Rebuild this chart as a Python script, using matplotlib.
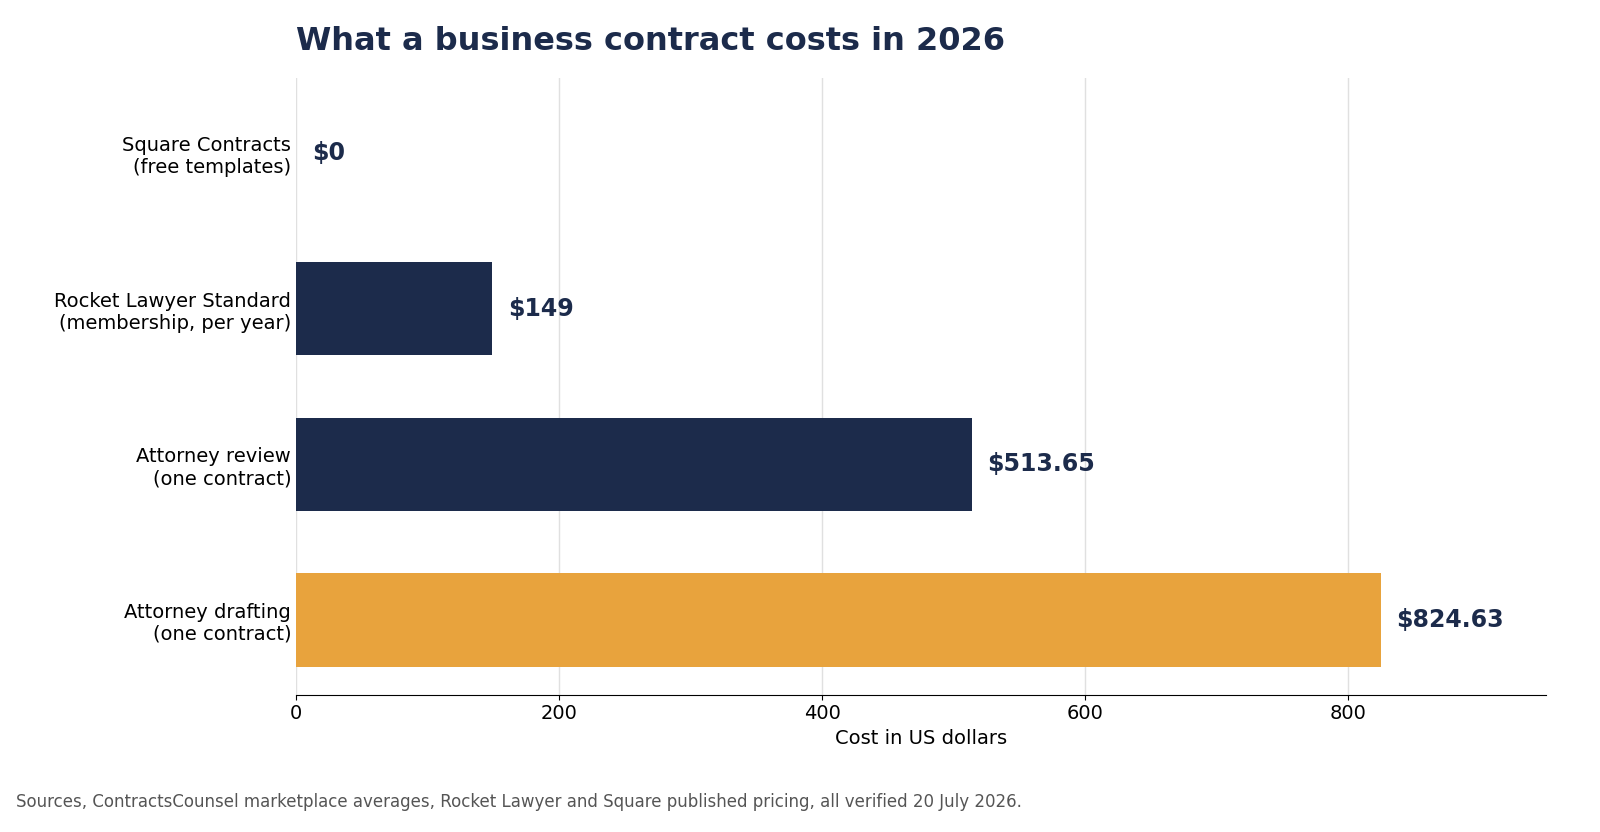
import matplotlib.pyplot as plt

labels = ["Square Contracts\n(free templates)",
          "Rocket Lawyer Standard\n(membership, per year)",
          "Attorney review\n(one contract)",
          "Attorney drafting\n(one contract)"]
costs = [0, 149, 513.65, 824.63]
value_text = ["$0", "$149", "$513.65", "$824.63"]
colors = ["#1c2b4b", "#1c2b4b", "#1c2b4b", "#e8a33d"]

fig = plt.figure(figsize=(16, 8.32), dpi=100)
ax = fig.add_axes([0.185, 0.165, 0.781, 0.741])

ypos = range(len(labels))
ax.barh(ypos, costs, height=0.6, color=colors, zorder=2)
for y, c, t in zip(ypos, costs, value_text):
    ax.text(c + 12, y, t, va="center", ha="left", fontsize=17,
            fontweight="bold", color="#1c2b4b")

ax.set_yticks(list(ypos))
ax.set_yticklabels(labels, fontsize=14)
ax.set_ylim(3.48, -0.48)
ax.set_xlim(0, 950)
ax.set_xticks([0, 200, 400, 600, 800])
ax.tick_params(axis="x", labelsize=14)
ax.tick_params(axis="y", length=0)
ax.grid(axis="x", color="#e0e0e0", linewidth=1, zorder=0)
for s in ["top", "right", "left"]:
    ax.spines[s].set_visible(False)
ax.set_xlabel("Cost in US dollars", fontsize=14)

ax.set_title("What a business contract costs in 2026", loc="left",
             fontsize=23, fontweight="bold", color="#1c2b4b", pad=20)
fig.text(0.01, 0.03, "Sources, ContractsCounsel marketplace averages, Rocket Lawyer and Square "
         "published pricing, all verified 20 July 2026.", fontsize=12, color="#555555")

fig.savefig("out.png", dpi=100)
